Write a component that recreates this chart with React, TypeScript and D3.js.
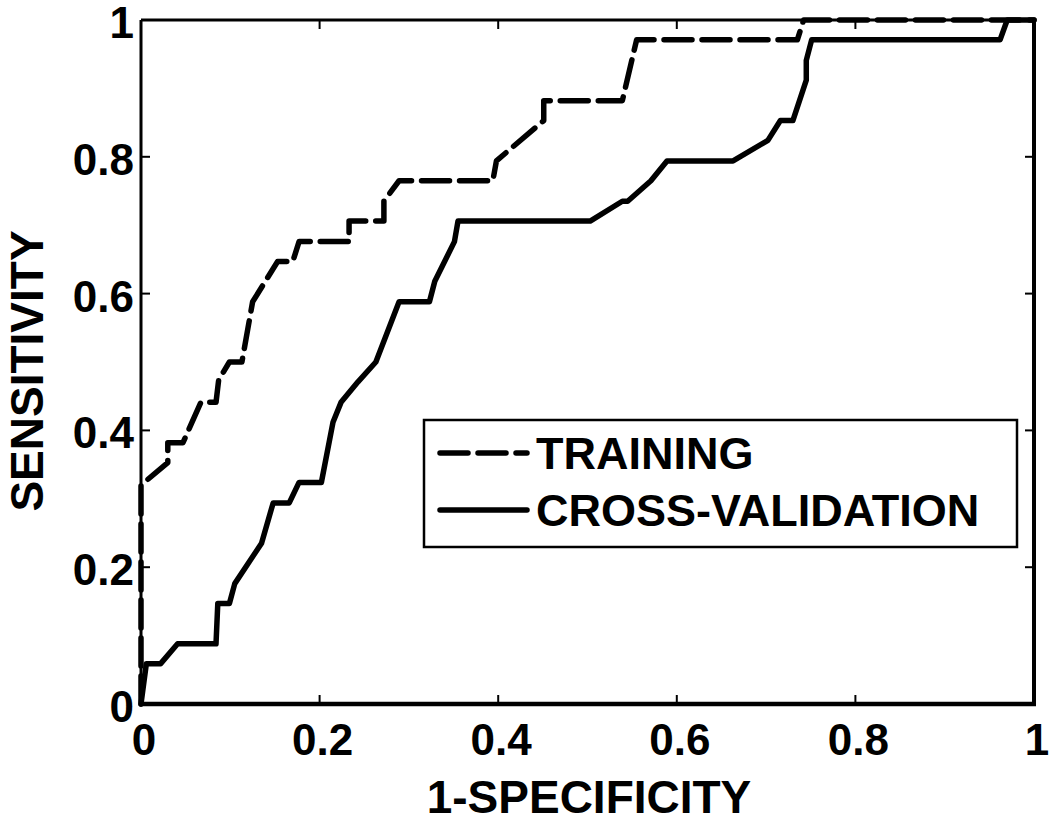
import React from "react";
import * as d3 from "d3";

const trainingFpr = [0, 0, 0.03, 0.03, 0.047, 0.067, 0.084, 0.087, 0.099, 0.113, 0.125, 0.153, 0.17, 0.177, 0.233, 0.233, 0.272, 0.272, 0.289, 0.394, 0.398, 0.451, 0.451, 0.539, 0.555, 0.735, 0.742, 1];
const trainingTpr = [0, 0.32, 0.353, 0.382, 0.382, 0.441, 0.441, 0.474, 0.5, 0.5, 0.588, 0.647, 0.647, 0.676, 0.676, 0.706, 0.706, 0.735, 0.765, 0.765, 0.794, 0.853, 0.882, 0.882, 0.971, 0.971, 1, 1];

const cvFpr = [0, 0.006, 0.022, 0.041, 0.084, 0.086, 0.099, 0.105, 0.135, 0.148, 0.166, 0.177, 0.202, 0.215, 0.224, 0.243, 0.263, 0.289, 0.323, 0.329, 0.351, 0.355, 0.503, 0.539, 0.545, 0.571, 0.589, 0.663, 0.702, 0.716, 0.73, 0.745, 0.745, 0.751, 0.962, 0.97, 1];
const cvTpr = [0, 0.059, 0.059, 0.088, 0.088, 0.147, 0.147, 0.176, 0.235, 0.294, 0.294, 0.324, 0.324, 0.412, 0.441, 0.471, 0.5, 0.588, 0.588, 0.618, 0.676, 0.706, 0.706, 0.735, 0.735, 0.765, 0.794, 0.794, 0.824, 0.853, 0.853, 0.912, 0.941, 0.971, 0.971, 1, 1];

const tickValues = [0, 0.2, 0.4, 0.6, 0.8, 1];
const tickLabels = ["0", "0.2", "0.4", "0.6", "0.8", "1"];
const legendLabels = ["TRAINING", "CROSS-VALIDATION"];
const xTitle = "1-SPECIFICITY";
const yTitle = "SENSITIVITY";

const W = 1050, H = 822;
const L = 141, R = 1034, T = 20, B = 704;
const FONT = "'Liberation Sans', Arial, Helvetica, sans-serif";
const DASH = "28 10";

export default function App() {
  const x = d3.scaleLinear().domain([0, 1]).range([L, R]);
  const y = d3.scaleLinear().domain([0, 1]).range([B, T]);
  const line = d3.line<[number, number]>().x((d) => x(d[0])).y((d) => y(d[1]));
  const trainPts = trainingFpr.map((v, i) => [v, trainingTpr[i]] as [number, number]);
  const cvPts = cvFpr.map((v, i) => [v, cvTpr[i]] as [number, number]);
  const tl = 9;

  const lx0 = 424, lx1 = 1017, ly0 = 420, ly1 = 547;
  const row1 = 453, row2 = 510;

  return (
    <svg width={W} height={H} style={{ position: "absolute", left: 0, top: 0, background: "#fff" }} fontFamily={FONT} fontWeight="bold">
      <rect x={0} y={0} width={W} height={H} fill="#fff" />
      {/* ticks */}
      {tickValues.map((v, i) => (
        <g key={"t" + i} stroke="#000" strokeWidth={2}>
          <line x1={x(v)} x2={x(v)} y1={B} y2={B - tl} />
          <line x1={x(v)} x2={x(v)} y1={T} y2={T + tl} />
          <line x1={L} x2={L + tl} y1={y(v)} y2={y(v)} />
          <line x1={R} x2={R - tl} y1={y(v)} y2={y(v)} />
        </g>
      ))}
      {/* curves */}
      <path d={line(cvPts) || ""} fill="none" stroke="#000" strokeWidth={5.5} strokeLinejoin="round" strokeLinecap="round" />
      <path d={line(trainPts) || ""} fill="none" stroke="#000" strokeWidth={5.5} strokeDasharray={DASH} strokeLinejoin="round" strokeLinecap="round" />
      {/* box */}
      <line x1={L} x2={R} y1={T} y2={T} stroke="#000" strokeWidth={3} />
      <line x1={L} x2={L} y1={T} y2={B} stroke="#000" strokeWidth={3} />
      <line x1={R} x2={R} y1={T} y2={B} stroke="#000" strokeWidth={4} />
      <line x1={L - 1.5} x2={R + 2} y1={B} y2={B} stroke="#000" strokeWidth={4.5} />
      {/* tick labels */}
      {tickValues.map((v, i) => (
        <text key={"xl" + i} x={x(v) + 3} y={755} textAnchor="middle" fontSize={44}>{tickLabels[i]}</text>
      ))}
      {tickValues.map((v, i) => (
        <text key={"yl" + i} x={134} y={y(v) + 18} textAnchor="end" fontSize={44}>{tickLabels[i]}</text>
      ))}
      {/* axis titles */}
      <text x={589} y={813} textAnchor="middle" fontSize={46}>{xTitle}</text>
      <text transform={`translate(43,371) rotate(-90)`} textAnchor="middle" fontSize={46}>{yTitle}</text>
      {/* legend */}
      <rect x={lx0} y={ly0} width={lx1 - lx0} height={ly1 - ly0} fill="#fff" stroke="#000" strokeWidth={2.5} />
      <line x1={440} x2={527} y1={row1} y2={row1} stroke="#000" strokeWidth={5.5} strokeDasharray={DASH} strokeLinecap="round" />
      <line x1={440} x2={527} y1={row2} y2={row2} stroke="#000" strokeWidth={5.5} strokeLinecap="round" />
      <text x={536} y={row1 + 16} fontSize={45}>{legendLabels[0]}</text>
      <text x={536} y={row2 + 16} fontSize={45}>{legendLabels[1]}</text>
    </svg>
  );
}
